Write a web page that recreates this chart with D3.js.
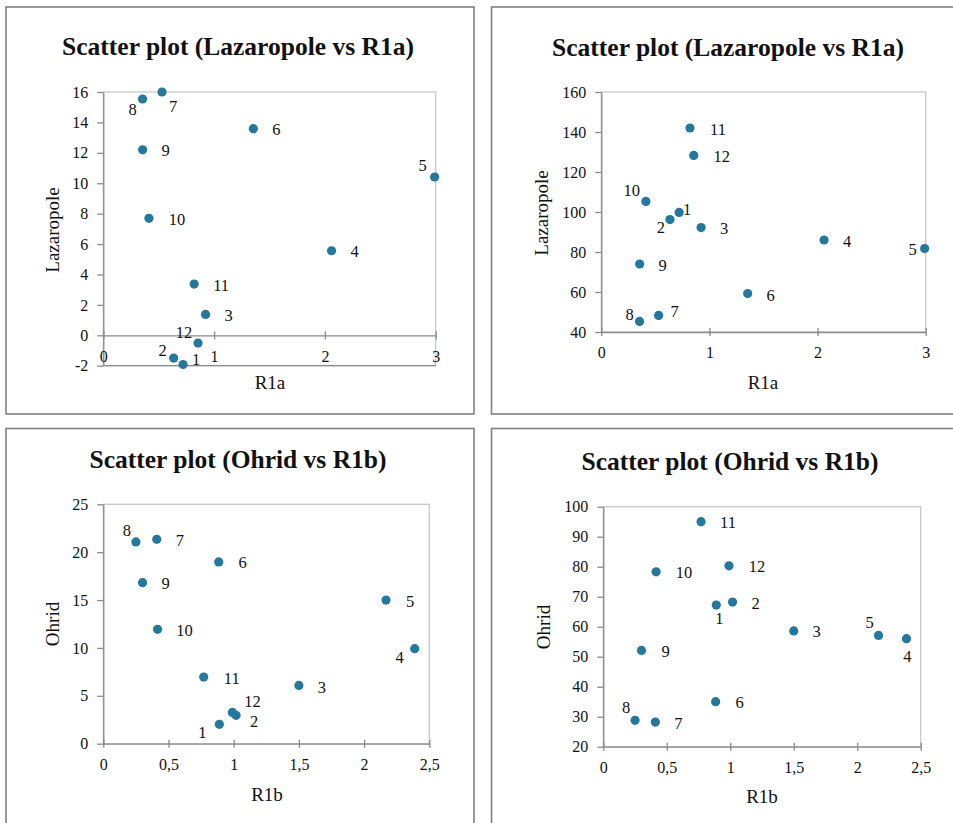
<!DOCTYPE html>
<html lang="en">
<head>
  <meta charset="UTF-8">
  <title>Scatter plots (Lazaropole vs R1a, Ohrid vs R1b)</title>
  <script src="https://cdn.jsdelivr.net/npm/d3@7/dist/d3.min.js"></script>
  <style>
    body { margin: 0; background: #fff; }
    svg text { font-family: "Liberation Serif", "Times New Roman", serif; fill: #111; }
    .title { font-size: 25.5px; font-weight: bold; text-anchor: middle; }
    .axis-label { font-size: 19px; text-anchor: middle; }
    .tick-label { font-size: 16px; }
    .pt-label { font-size: 16.5px; text-anchor: middle; dominant-baseline: central; }
  </style>
</head>
<body>
  <script>
    // data: points 1..12
    const pointIds = [1, 2, 3, 4, 5, 6, 7, 8, 9, 10, 11, 12];
    const r1a = [0.72, 0.635, 0.923, 2.06, 2.99, 1.354, 0.53, 0.354, 0.355, 0.412, 0.82, 0.855];
    const lazaropoleLow = [-1.92, -1.5, 1.37, 5.56, 10.41, 13.59, 16.0, 15.54, 12.2, 7.69, 3.37, -0.51];
    const lazaropole = [99.8, 96.2, 92.2, 86, 81.7, 59.2, 48.3, 45.3, 74, 105.3, 142, 128.3];
    const r1b = [0.89, 1.018, 1.5, 2.388, 2.168, 0.885, 0.41, 0.25, 0.301, 0.416, 0.77, 0.99];
    const ohridLow = [2.02, 2.96, 6.09, 9.92, 15.0, 18.98, 21.34, 21.07, 16.82, 11.94, 6.96, 3.27];
    const ohrid = [67.2, 68.2, 58.6, 56, 57.1, 35, 28.2, 28.8, 52.1, 78.3, 95, 80.3];

    const ticks1x = [0, 1, 2, 3], ticks1y = [-2, 0, 2, 4, 6, 8, 10, 12, 14, 16];
    const ticks2y = [40, 60, 80, 100, 120, 140, 160];
    const ticksBx = [0, 0.5, 1, 1.5, 2, 2.5];
    const ticks3y = [0, 5, 10, 15, 20, 25];
    const ticks4y = [20, 30, 40, 50, 60, 70, 80, 90, 100];

    // label offsets (px) per point, per panel
    const offs1 = [[13,-5],[-11,-8],[23,1],[23,1],[-12,-11],[23,1],[11,14],[-10,11],[23,1],[28,1],[27,1],[-14,-11]];
    const offs2 = [[8,-3],[-9,8],[23,1],[23,1],[-12,1],[23,2],[16,-4],[-10,-7],[23,1],[-14,-11],[28,1],[28,1]];
    const offs3 = [[-17,8],[18,6],[23,2],[-15,9],[24,1],[24,1],[23,1],[-9,-11],[23,1],[27,1],[28,1],[20,-11]];
    const offs4 = [[3,13],[23,1],[23,1],[1,18],[-9,-13],[24,1],[23,1],[-9,-13],[24,1],[28,1],[27,1],[28,1]];

    const dotColor = "#23789c";
    const plain = v => String(v);
    const comma = v => String(v).replace(".", ",");

    const svg = d3.select("body").append("svg")
      .attr("width", 953).attr("height", 823);

    const panels = [
      { box: [6, 7, 468, 407], plot: [103.3, 92, 435.7, 365.7], title: "Scatter plot (Lazaropole vs R1a)",
        tx: 238, ty: 55, xName: "R1a", xnx: 270, xny: 389, yName: "Lazaropole", ynx: 52, yny: 230,
        xs: r1a, ys: lazaropoleLow, xd: [0, 3], yd: [-2, 16], xt: ticks1x, yt: ticks1y, offs: offs1,
        xAt: 0, xLabY: 22, fmt: plain },
      { box: [491.5, 7, 470, 407], plot: [601.3, 92, 925.7, 332], title: "Scatter plot (Lazaropole vs R1a)",
        tx: 728, ty: 56, xName: "R1a", xnx: 763, xny: 389, yName: "Lazaropole", ynx: 541, yny: 213,
        xs: r1a, ys: lazaropole, xd: [0, 3], yd: [40, 160], xt: ticks1x, yt: ticks2y, offs: offs2,
        xAt: 40, xLabY: 21, fmt: plain },
      { box: [6, 428.5, 468, 410], plot: [103.3, 504.3, 429.3, 743.7], title: "Scatter plot (Ohrid vs R1b)",
        tx: 238, ty: 468, xName: "R1b", xnx: 267, xny: 801, yName: "Ohrid", ynx: 52, yny: 624,
        xs: r1b, ys: ohridLow, xd: [0, 2.5], yd: [0, 25], xt: ticksBx, yt: ticks3y, offs: offs3,
        xAt: 0, xLabY: 21, fmt: comma },
      { box: [491.5, 428.5, 470, 410], plot: [603.3, 506.7, 920.7, 746.7], title: "Scatter plot (Ohrid vs R1b)",
        tx: 730, ty: 470, xName: "R1b", xnx: 762, xny: 803, yName: "Ohrid", ynx: 543, yny: 627,
        xs: r1b, ys: ohrid, xd: [0, 2.5], yd: [20, 100], xt: ticksBx, yt: ticks4y, offs: offs4,
        xAt: 20, xLabY: 21, fmt: comma }
    ];

    panels.forEach(p => {
      const [l, t, r, b] = p.plot;
      const g = svg.append("g");

      g.append("rect")
        .attr("x", p.box[0]).attr("y", p.box[1])
        .attr("width", p.box[2]).attr("height", p.box[3])
        .attr("fill", "none").attr("stroke", "#808080").attr("stroke-width", 1.6);

      const x = d3.scaleLinear().domain(p.xd).range([l, r]);
      const y = d3.scaleLinear().domain(p.yd).range([b, t]);

      // plot area frame
      g.append("rect")
        .attr("x", l).attr("y", t).attr("width", r - l).attr("height", b - t)
        .attr("fill", "none").attr("stroke", "#c4c4c4").attr("stroke-width", 1.2);

      // y axis
      const ya = g.append("g")
        .attr("transform", `translate(${l},0)`)
        .call(d3.axisLeft(y).tickValues(p.yt).tickFormat(plain).tickSizeInner(6).tickSizeOuter(0));
      ya.selectAll("text").attr("x", -15);

      // x axis
      const xa = g.append("g")
        .attr("transform", `translate(0,${y(p.xAt)})`)
        .call(d3.axisBottom(x).tickValues(p.xt).tickFormat(p.fmt).tickSizeOuter(0));
      xa.selectAll(".tick line").attr("y1", -4).attr("y2", 4);
      xa.selectAll("text").attr("y", p.xLabY).attr("dy", "0.32em");

      [ya, xa].forEach(a => {
        a.attr("font-family", null).attr("font-size", null);
        a.selectAll("text").attr("class", "tick-label");
        a.select(".domain").attr("stroke", "#8a8a8a").attr("stroke-width", 1.3);
        a.selectAll(".tick line").attr("stroke", "#8a8a8a").attr("stroke-width", 1.3);
      });

      if (p.xAt !== p.yd[0]) {
        // bottom line of the plot area
        g.append("line")
          .attr("x1", l).attr("x2", r).attr("y1", b).attr("y2", b)
          .attr("stroke", "#8a8a8a").attr("stroke-width", 1.3);
      }

      g.append("text").attr("class", "title")
        .attr("x", p.tx).attr("y", p.ty).text(p.title);
      g.append("text").attr("class", "axis-label")
        .attr("x", p.xnx).attr("y", p.xny).text(p.xName);
      g.append("text").attr("class", "axis-label")
        .attr("transform", `translate(${p.ynx},${p.yny}) rotate(-90)`)
        .attr("dy", "0.35em").text(p.yName);

      const pts = pointIds.map((id, i) => ({ id, x: p.xs[i], y: p.ys[i], o: p.offs[i] }));

      g.selectAll("circle").data(pts).enter().append("circle")
        .attr("cx", d => x(d.x)).attr("cy", d => y(d.y))
        .attr("r", 4.6).attr("fill", dotColor);

      g.selectAll(".pt-label").data(pts).enter().append("text")
        .attr("class", "pt-label")
        .attr("x", d => x(d.x) + d.o[0]).attr("y", d => y(d.y) + d.o[1])
        .text(d => d.id);
    });
  </script>
</body>
</html>
